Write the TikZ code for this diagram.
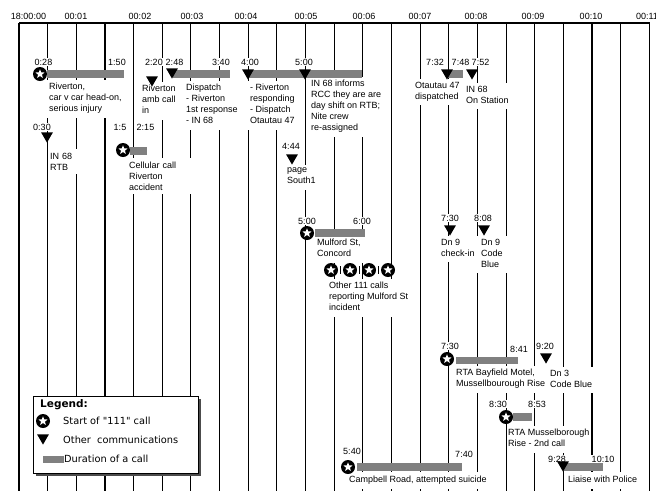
\documentclass[tikz,border=0pt]{standalone}
\usepackage{fontspec}
\setmainfont{Liberation Sans}
\newfontfamily\legfont{DejaVu Sans}
\usetikzlibrary{shapes.geometric}
\begin{document}
\begin{tikzpicture}[x=1pt,y=-1pt,
  gridline/.style={line width=1.1pt},
  evtext/.style={fill=white, inner xsep=4pt, inner ysep=3pt, anchor=north west, align=left,
    font=\fontsize{9}{11}\selectfont, execute at begin node=\strut},
  tlab/.style={fill=white, inner sep=1.2pt, anchor=base, font=\fontsize{9}{11}\selectfont},
  hlab/.style={inner sep=0pt, anchor=base, font=\fontsize{9}{11}\selectfont},
  durbar/.style={fill=black!50},
  starcall/.style={circle, fill=black, minimum size=14pt, inner sep=0pt,
    path picture={\node[star, star points=5, star point ratio=2.3, fill=white, draw=none,
      minimum size=9.5pt, inner sep=0pt] at (path picture bounding box.center) {};}},
  othercom/.style={regular polygon, regular polygon sides=3, shape border rotate=180,
    fill=black, minimum size=13.8pt, inner sep=0pt, anchor=corner 1},
  legtext/.style={inner sep=0pt, anchor=base west, font=\legfont\fontsize{9.8}{11}\selectfont},
]
\useasboundingbox (0,0) rectangle (656,491);

% grid
\foreach \k in {0,...,22} \draw[gridline] ({19+28.65*\k},23) -- ({19+28.65*\k},491);
\draw[gridline] (19,23) -- (650,23);

% header labels
\node[hlab] (h0) at (28.5,19.2) {18:00:00};
\node[hlab] (h1) at (76,19.2) {00:01};
\node[hlab] (h2) at (140,19.2) {00:02};
\node[hlab] (h3) at (192,19.2) {00:03};
\node[hlab] (h4) at (246,19.2) {00:04};
\node[hlab] (h5) at (306,19.2) {00:05};
\node[hlab] (h6) at (364,19.2) {00:06};
\node[hlab] (h7) at (420,19.2) {00:07};
\node[hlab] (h8) at (476,19.2) {00:08};
\node[hlab] (h9) at (533,19.2) {00:09};
\node[hlab] (h10) at (591,19.2) {00:10};
\node[hlab] (h11) at (647,19.2) {00:11};

% event texts
\node[evtext] (tA) at (45,79.6) {Riverton,\\car v car head-on,\\serious injury};
\node[evtext, inner xsep=2pt, text width=28pt] (tB) at (48,148.6) {IN 68\\RTB};
\node[evtext, text width=61pt] (tC) at (125,157.6) {Cellular call\\Riverton\\accident};
\node[evtext] (tD) at (138,81.6) {Riverton\\amb call\\in};
\node[evtext] (tE) at (182,80.6) {Dispatch\\- Riverton\\1st response\\- IN 68};
\node[evtext] (tF1) at (246,80.6) {- Riverton\\responding\\- Dispatch\\Otautau 47};
\node[evtext] (tF2) at (307,76.6) {IN 68 informs\\RCC they are are\\day shift on RTB;\\Nite crew\\re-assigned};
\node[evtext] (tG) at (283,164.6) {page\\South1};
\node[evtext] (tH1) at (411,78.6) {Otautau 47\\dispatched};
\node[evtext] (tH2) at (462,82.6) {IN 68\\On Station};
\node[evtext] (tI1) at (313,235.6) {Mulford St,\\Concord};
\node[evtext] (tI2) at (325,278.6) {Other 111 calls\\reporting Mulford St\\incident};
\node[evtext] (tJ) at (437,235.6) {Dn 9\\check-in};
\node[evtext] (tK) at (477,235.6) {Dn 9\\Code\\Blue};
\node[evtext] (tL) at (452,365.6) {RTA Bayfield Motel,\\Mussellbourough Rise};
\node[evtext] (tM) at (546,366.6) {Dn 3\\Code Blue};
\node[evtext, inner xsep=1pt] (tN) at (507,425.6) {RTA Musselborough\\Rise - 2nd call};
\node[evtext] (tO) at (345,471.6) {Campbell Road, attempted suicide};
\node[evtext] (tP) at (564,471.6) {Liaise with Police};

% time labels
\node[tlab] (l028) at (43.5,65.2) {0:28};
\node[tlab] (l150) at (117,65.2) {1:50};
\node[tlab] (l030) at (42,130.2) {0:30};
\node[tlab] (l15) at (120,130.2) {1:5};
\node[tlab] (l215) at (145.5,130.2) {2:15};
\node[tlab] (l220) at (154,65.2) {2:20};
\node[tlab] (l248) at (174.5,65.2) {2:48};
\node[tlab] (l340) at (221,65.2) {3:40};
\node[tlab] (l400) at (250,65.2) {4:00};
\node[tlab] (l500a) at (304,65.2) {5:00};
\node[tlab] (l444) at (291,149.2) {4:44};
\node[tlab] (l732) at (435,65.2) {7:32};
\node[tlab] (l748) at (460.5,65.2) {7:48};
\node[tlab] (l752) at (480.5,65.2) {7:52};
\node[tlab] (l500b) at (307,224.2) {5:00};
\node[tlab] (l600) at (362,224.2) {6:00};
\node[tlab] (l730a) at (450,221.2) {7:30};
\node[tlab] (l808) at (483,221.2) {8:08};
\node[tlab] (l730b) at (450,349.2) {7:30};
\node[tlab] (l841) at (519,352.2) {8:41};
\node[tlab] (l920) at (545,349.2) {9:20};
\node[tlab] (l830) at (498,407.2) {8:30};
\node[tlab] (l853) at (537,407.2) {8:53};
\node[tlab] (l540) at (352,454.2) {5:40};
\node[tlab] (l740) at (464,457.2) {7:40};
\node[tlab] (l928) at (557,462.2) {9:28};
\node[tlab] (l1010) at (603,462.2) {10:10};

% duration bars
\fill[durbar] (47,70) rectangle (124,78);
\fill[durbar] (130,147) rectangle (147,155);
\fill[durbar] (173,70) rectangle (230,78);
\fill[durbar] (248,70) rectangle (362,78);
\fill[durbar] (447,70) rectangle (463,78);
\fill[durbar] (315,229) rectangle (365,237);
\fill[durbar] (456,357) rectangle (518,364);
\fill[durbar] (513,413) rectangle (532,421);
\fill[durbar] (357,463) rectangle (462,471);
\fill[durbar] (563,463) rectangle (603,471);

% "111" call starts
\node[starcall] (sA) at (40,74) {};
\node[starcall] (sC) at (123,150) {};
\node[starcall] (sI) at (307,233) {};
\node[starcall] (sI1) at (331,270) {};
\node[starcall] (sI2) at (350,270) {};
\node[starcall] (sI3) at (369,270) {};
\node[starcall] (sI4) at (388,270) {};
\draw[line width=0.7pt] (340.5,266) -- (340.5,274);
\draw[line width=0.7pt] (359.5,266) -- (359.5,274);
\draw[line width=0.7pt] (378.5,266) -- (378.5,274);
\node[starcall] (sL) at (447,359) {};
\node[starcall] (sN) at (506,417) {};
\node[starcall] (sO) at (348,467) {};

% other communications
\node[othercom] (cB) at (47,143) {};
\node[othercom] (cD) at (152,87) {};
\node[othercom] (cE) at (172,79) {};
\node[othercom] (cF1) at (248,80) {};
\node[othercom] (cF2) at (305,80) {};
\node[othercom] (cG) at (292,165) {};
\node[othercom] (cH1) at (447,80) {};
\node[othercom] (cH2) at (472,80) {};
\node[othercom] (cJ) at (450,236) {};
\node[othercom] (cK) at (484,236) {};
\node[othercom] (cM) at (546,364) {};
\node[othercom] (cP) at (563,472) {};

% legend
\fill[black!70] (36,399) rectangle (201,476);
\node[draw, line width=0.6pt, fill=white, minimum width=165pt, minimum height=77pt,
  inner sep=0pt, anchor=north west] (legbox) at (33,396) {};
\node[legtext, font=\legfont\bfseries\fontsize{10.5}{12}\selectfont] (legT) at (40,407.8) {Legend:};
\node[starcall] (legS) at (43,421) {};
\node[legtext] (legS1) at (63,424.5) {Start of "111" call};
\node[othercom] (legC) at (43,445) {};
\node[legtext] (legC1) at (63,443.5) {Other\ \ communications};
\fill[durbar] (43,456) rectangle (64,463);
\node[legtext] (legB1) at (64,462.5) {Duration of a call};
\end{tikzpicture}
\end{document}
